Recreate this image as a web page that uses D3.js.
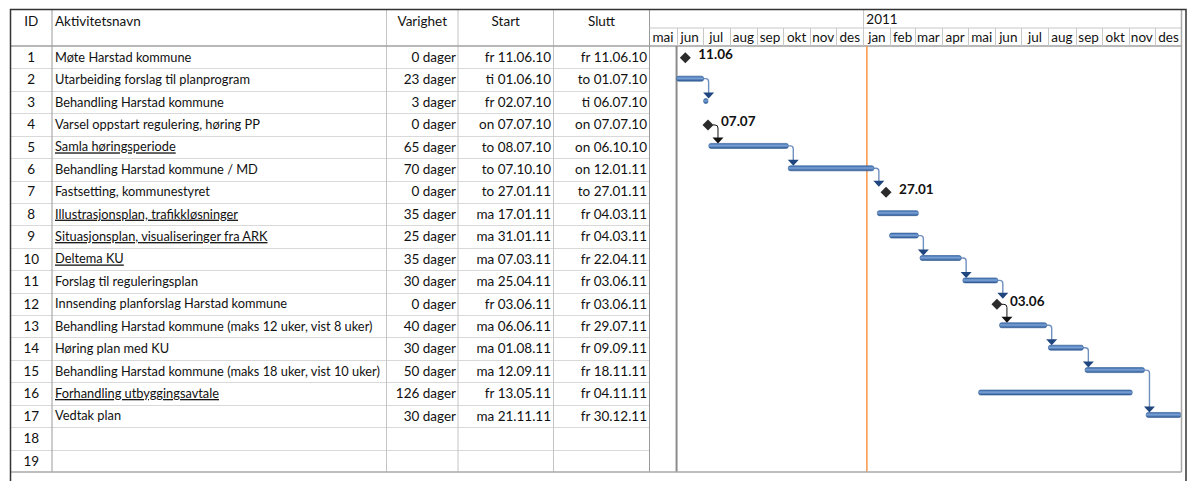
<!DOCTYPE html>
<html lang="no">
<head>
<meta charset="UTF-8">
<title>Fremdriftsplan</title>
<script src="https://d3js.org/d3.v7.min.js"></script>
<style>
  body { margin: 0; background: #fff; }
  svg { display: block; font-family: Lato, "Open Sans", sans-serif; }
  .cell { font-size: 13.5px; fill: #111; }
  .name { font-size: 12.8px; }
  .ms-label { font-size: 13.5px; font-weight: bold; fill: #111; }
</style>
</head>
<body>
<svg width="1192" height="481"></svg>
<script>
// --- data ---
const ids = ["1","2","3","4","5","6","7","8","9","10","11","12","13","14","15","16","17","18","19"];
const names = [
  "Møte Harstad kommune",
  "Utarbeiding forslag til planprogram",
  "Behandling Harstad kommune",
  "Varsel oppstart regulering, høring PP",
  "Samla høringsperiode",
  "Behandling Harstad kommune / MD",
  "Fastsetting, kommunestyret",
  "Illustrasjonsplan, trafikkløsninger",
  "Situasjonsplan, visualiseringer fra ARK",
  "Deltema KU",
  "Forslag til reguleringsplan",
  "Innsending planforslag Harstad kommune",
  "Behandling Harstad kommune (maks 12 uker, vist 8 uker)",
  "Høring plan med KU",
  "Behandling Harstad kommune (maks 18 uker, vist 10 uker)",
  "Forhandling utbyggingsavtale",
  "Vedtak plan",
  "", ""
];
const durations = ["0 dager","23 dager","3 dager","0 dager","65 dager","70 dager","0 dager","35 dager","25 dager",
  "35 dager","30 dager","0 dager","40 dager","30 dager","50 dager","126 dager","30 dager","",""];
const starts = ["fr 11.06.10","ti 01.06.10","fr 02.07.10","on 07.07.10","to 08.07.10","to 07.10.10","to 27.01.11",
  "ma 17.01.11","ma 31.01.11","ma 07.03.11","ma 25.04.11","fr 03.06.11","ma 06.06.11","ma 01.08.11",
  "ma 12.09.11","fr 13.05.11","ma 21.11.11","",""];
const ends = ["fr 11.06.10","to 01.07.10","ti 06.07.10","on 07.07.10","on 06.10.10","on 12.01.11","to 27.01.11",
  "fr 04.03.11","fr 04.03.11","fr 22.04.11","fr 03.06.11","fr 03.06.11","fr 29.07.11","fr 09.09.11",
  "fr 18.11.11","fr 04.11.11","fr 30.12.11","",""];
const predecessors = [null,null,"2",null,"4","5","6",null,null,"9","10","11","12","13","14",null,"15",null,null];
const underlined = ["5","8","9","10","16"];
const monthNames = ["jan","feb","mar","apr","mai","jun","jul","aug","sep","okt","nov","des"];
const statusDate = "05.01.11";

// --- layout ---
const frameL = 10.5, frameT = 9.5, frameR = 1186, innerR = 1181.5, frameB = 472;
const headerBottom = 46, tierLine = 28;
const colEdges = [frameL, 52, 386.5, 458, 553.5, 649.5]; // ID | navn | varighet | start | slutt | gantt

const svg = d3.select("svg");
const parse = d3.timeParse("%d.%m.%y");
const dateOf = s => parse(s.split(" ")[1]);

const y = d3.scaleBand().domain(ids).range([headerBottom, frameB]);
const bw = y.bandwidth();
const cy = id => y(id) + bw / 2;

const x = d3.scaleTime()
  .domain([new Date(2010, 4, 1), new Date(2012, 0, 1)])
  .range([colEdges[5], 1182]);

// gradient for bars
const defs = svg.append("defs");
const grad = defs.append("linearGradient").attr("id", "barGrad")
  .attr("x1", 0).attr("y1", 0).attr("x2", 0).attr("y2", 1);
grad.append("stop").attr("offset", "0%").attr("stop-color", "#3c6cab");
grad.append("stop").attr("offset", "45%").attr("stop-color", "#7ba3d8");
grad.append("stop").attr("offset", "100%").attr("stop-color", "#2a558f");

// --- table grid ---
const grid = svg.append("g");
// row lines (table part only)
grid.selectAll(".rowline").data(ids.slice(1))
  .join("line")
  .attr("x1", frameL).attr("x2", colEdges[5])
  .attr("y1", d => Math.round(y(d)) + 0.5).attr("y2", d => Math.round(y(d)) + 0.5)
  .attr("stroke", "#d9d9d9");
// column lines
grid.selectAll(".colline").data(colEdges.slice(1))
  .join("line")
  .attr("x1", d => d).attr("x2", d => d)
  .attr("y1", frameT).attr("y2", frameB)
  .attr("stroke", (d, i) => i === 0 || i === 4 ? "#9a9a9a" : "#c4c4c4");

// header bottom
grid.append("line").attr("x1", frameL).attr("x2", innerR)
  .attr("y1", headerBottom).attr("y2", headerBottom)
  .attr("stroke", "#a0a0a0").attr("stroke-width", 1.5);
// gantt tier line
grid.append("line").attr("x1", colEdges[5]).attr("x2", innerR)
  .attr("y1", tierLine).attr("y2", tierLine).attr("stroke", "#c8c8c8");

// header text
const headers = [
  { t: "ID", x: (colEdges[0] + colEdges[1]) / 2, a: "middle" },
  { t: "Aktivitetsnavn", x: colEdges[1] + 3, a: "start" },
  { t: "Varighet", x: (colEdges[2] + colEdges[3]) / 2, a: "middle" },
  { t: "Start", x: (colEdges[3] + colEdges[4]) / 2, a: "middle" },
  { t: "Slutt", x: (colEdges[4] + colEdges[5]) / 2, a: "middle" }
];
svg.selectAll(".hdr").data(headers).join("text")
  .attr("class", "cell")
  .attr("x", d => d.x).attr("y", 21).attr("dy", "0.35em")
  .attr("text-anchor", d => d.a)
  .text(d => d.t);

// rows
const rows = svg.selectAll(".row").data(ids).join("g")
  .attr("transform", d => `translate(0,${cy(d)})`);
rows.append("text").attr("class", "cell")
  .attr("x", (colEdges[0] + colEdges[1]) / 2).attr("dy", "0.35em")
  .attr("text-anchor", "middle").text(d => d);
rows.append("text").attr("class", "cell name")
  .attr("x", colEdges[1] + 3).attr("dy", "0.35em")
  .style("text-decoration", d => underlined.includes(d) ? "underline" : null)
  .text((d, i) => names[i]);
rows.append("text").attr("class", "cell")
  .attr("x", colEdges[3] - 2).attr("dy", "0.35em").attr("text-anchor", "end")
  .text((d, i) => durations[i]);
rows.append("text").attr("class", "cell")
  .attr("x", colEdges[4] - 2.5).attr("dy", "0.35em").attr("text-anchor", "end")
  .text((d, i) => starts[i]);
rows.append("text").attr("class", "cell")
  .attr("x", colEdges[5] - 2.5).attr("dy", "0.35em").attr("text-anchor", "end")
  .text((d, i) => ends[i]);

// --- gantt header (timescale) ---
const months = d3.timeMonth.range(x.domain()[0], x.domain()[1]);
const mh = svg.append("g");
mh.selectAll("line").data(months.slice(1)).join("line")
  .attr("x1", d => Math.round(x(d)) + 0.5).attr("x2", d => Math.round(x(d)) + 0.5)
  .attr("y1", tierLine).attr("y2", headerBottom).attr("stroke", "#c8c8c8");
mh.selectAll("text").data(months).join("text")
  .attr("class", "cell")
  .attr("x", d => (x(d) + x(d3.timeMonth.offset(d, 1))) / 2)
  .attr("y", 37.5).attr("dy", "0.35em").attr("text-anchor", "middle")
  .text(d => monthNames[d.getMonth()]);

const years = d3.timeYear.range(x.domain()[0], x.domain()[1]);
svg.selectAll(".yr").data(years).join("line")
  .attr("x1", d => Math.round(x(d)) + 0.5).attr("x2", d => Math.round(x(d)) + 0.5)
  .attr("y1", frameT).attr("y2", tierLine).attr("stroke", "#c8c8c8");
svg.selectAll(".yrlab").data(years).join("text")
  .attr("class", "cell")
  .attr("x", d => x(d) + 3).attr("y", 19).attr("dy", "0.35em")
  .text(d => d.getFullYear());

// --- gantt body ---
const tasks = ids.map((id, i) => ({
  id, i,
  start: starts[i] ? dateOf(starts[i]) : null,
  end: ends[i] ? d3.timeDay.offset(dateOf(ends[i]), 1) : null,
  milestone: durations[i] === "0 dager",
  pred: predecessors[i]
})).filter(d => d.start);
const byId = new Map(tasks.map(d => [d.id, d]));

// project start line
const projStart = d3.min(tasks, d => d.start);
svg.append("line")
  .attr("x1", x(projStart)).attr("x2", x(projStart))
  .attr("y1", headerBottom).attr("y2", frameB)
  .attr("stroke", "#8c8c8c").attr("stroke-width", 2);

// status date line
const sx = x(parse(statusDate));
svg.append("line")
  .attr("x1", sx).attr("x2", sx)
  .attr("y1", headerBottom).attr("y2", frameB)
  .attr("stroke", "#f79646").attr("stroke-width", 1.5);

const barTop = d => cy(d.id) - 3.5;
const barH = 5;
const msY = d => cy(d.id) + 0.5;

// links
const links = tasks.filter(d => d.pred).map(t => ({ s: byId.get(t.pred), t }));
const gl = svg.append("g");
links.forEach(({ s, t }) => {
  let sxp, syp, xv;
  if (s.milestone) { sxp = x(s.start) + 5; syp = msY(s); xv = x(s.start) + 10; }
  else { sxp = x(s.end); syp = barTop(s) + barH / 2; xv = x(s.end) + 5; }
  const tipY = t.milestone ? msY(t) - 5.5 : barTop(t);
  const aH = 6, aW = 5.5;
  const col = s.milestone ? "#111" : "#6f8fbf";
  const headCol = s.milestone ? "#111" : "#1f467e";
  gl.append("path")
    .attr("d", `M${sxp},${syp} H${xv - 3} Q${xv},${syp} ${xv},${syp + 3} V${tipY - aH + 1}`)
    .attr("fill", "none").attr("stroke", col).attr("stroke-width", s.milestone ? 1 : 1.4);
  gl.append("path")
    .attr("d", `M${xv - aW},${tipY - aH} H${xv + aW} L${xv},${tipY} Z`)
    .attr("fill", headCol);
});

// bars
svg.selectAll(".bar").data(tasks.filter(d => !d.milestone)).join("rect")
  .attr("x", d => x(d.start))
  .attr("y", barTop)
  .attr("width", d => Math.min(x(d.end), innerR) - x(d.start))
  .attr("height", barH)
  .attr("rx", 2)
  .attr("fill", "url(#barGrad)")
  .attr("stroke", "#2f5b95").attr("stroke-width", 0.6);

// milestones
const ms = svg.selectAll(".ms").data(tasks.filter(d => d.milestone)).join("g")
  .attr("transform", d => `translate(${x(d.start)},${msY(d)})`);
ms.append("path").attr("d", "M0,-5.5 L5.5,0 L0,5.5 L-5.5,0 Z").attr("fill", "#2b2b2b");
ms.append("text").attr("class", "ms-label")
  .attr("x", 13).attr("dy", "0.1em")
  .text(d => d3.timeFormat("%d.%m")(d.start));

// --- outer frame ---
const frame = svg.append("g").attr("fill", "none");
frame.append("line").attr("x1", frameL).attr("x2", innerR).attr("y1", frameB).attr("y2", frameB)
  .attr("stroke", "#a8a8a8").attr("stroke-width", 1.5);
frame.append("line").attr("x1", innerR).attr("x2", innerR).attr("y1", frameT).attr("y2", frameB)
  .attr("stroke", "#a8a8a8").attr("stroke-width", 1.5);
frame.append("path")
  .attr("d", `M${frameL},481 V${frameT} H${frameR} V481`)
  .attr("stroke", "#333").attr("stroke-width", 1.5);
</script>
</body>
</html>
